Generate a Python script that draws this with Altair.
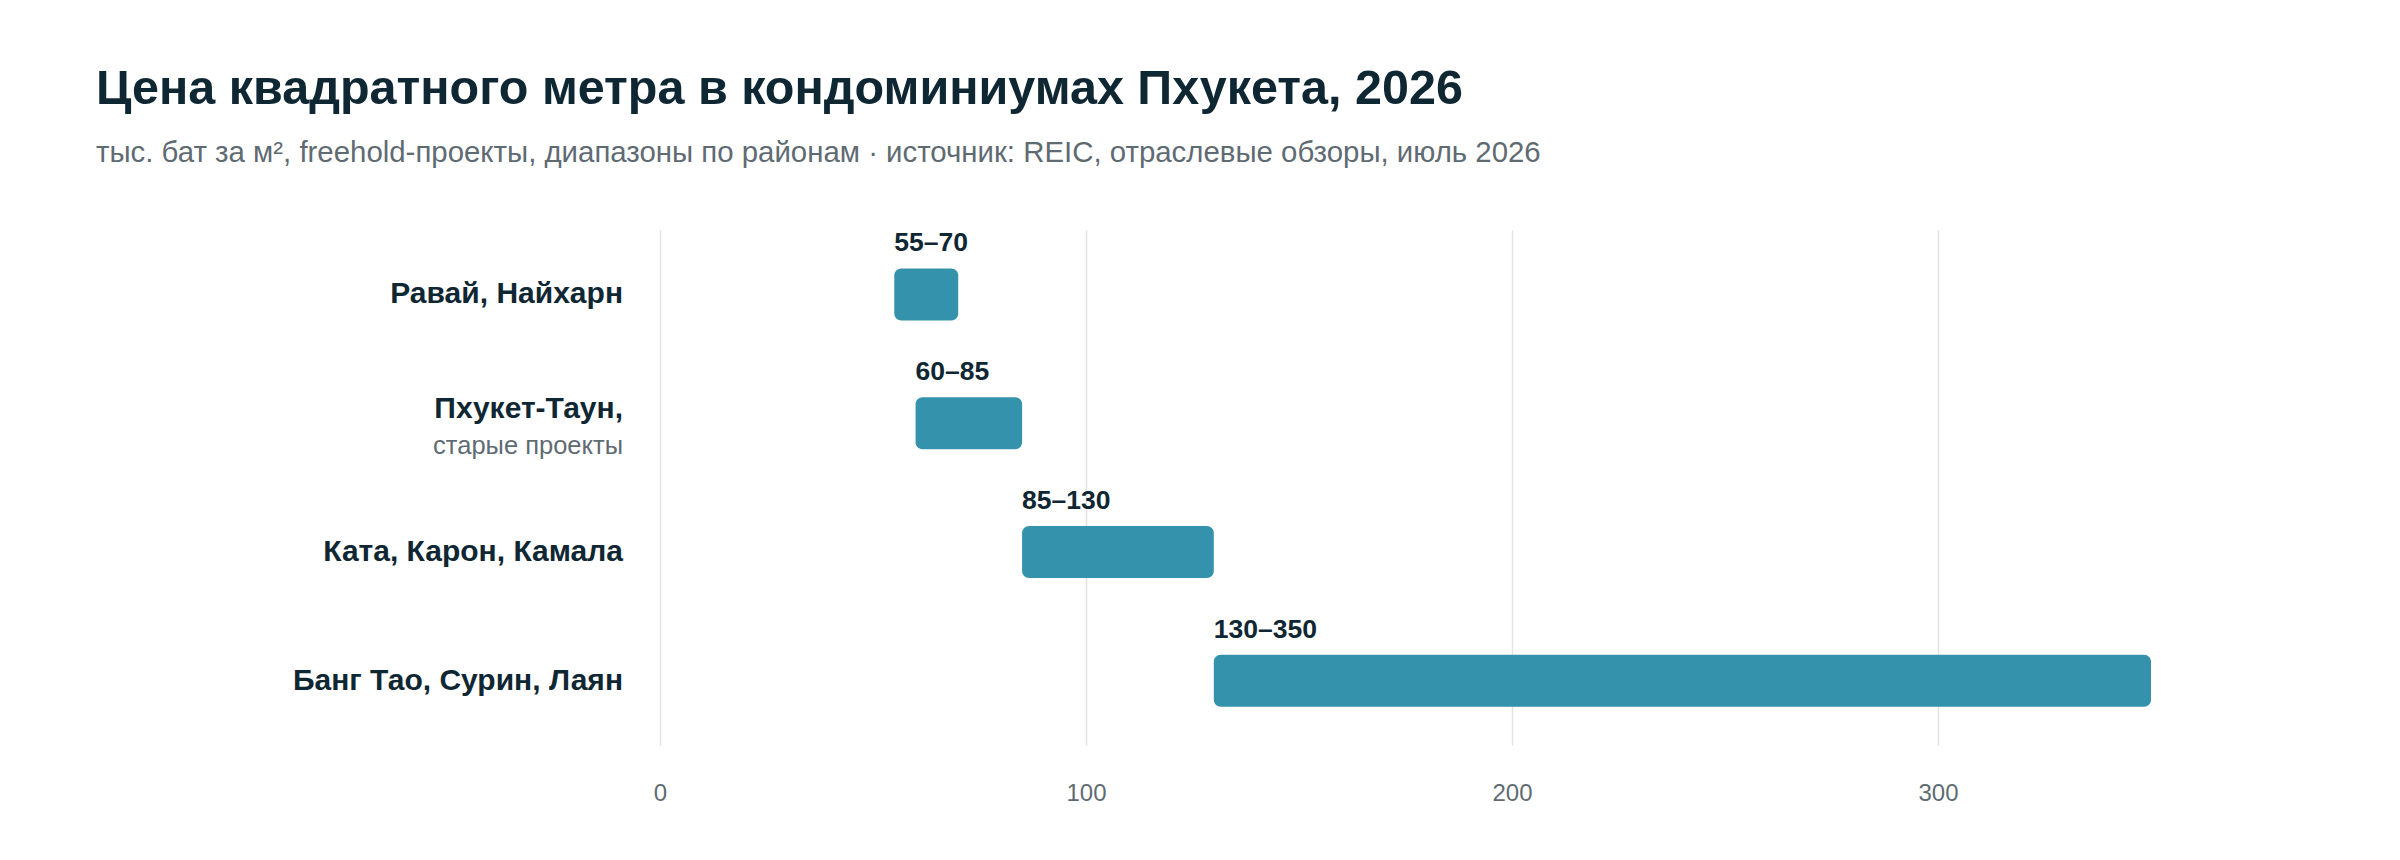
import altair as alt
import pandas as pd

regions = ["Равай, Найхарн", "Пхукет-Таун,", "Ката, Карон, Камала", "Банг Тао, Сурин, Лаян"]
sublabels = ["", "старые проекты", "", ""]
low = [55, 60, 85, 130]
high = [70, 85, 130, 350]
range_labels = ["55–70", "60–85", "85–130", "130–350"]
x_ticks = [0, 100, 200, 300]

df = pd.DataFrame({
    "region": regions,
    "sub": sublabels,
    "low": low,
    "high": high,
    "lbl": range_labels,
})

FONT = "Liberation Sans"
DARK = "#0f2733"
GRAY = "#5f6b73"
BAR = "#3592ad"

y_enc = alt.Y("region:N", sort=regions,
              scale=alt.Scale(paddingInner=0, paddingOuter=0),
              axis=alt.Axis(labels=False, ticks=False, domain=False, title=None, grid=False))
x_scale = alt.Scale(domain=[0, 350], nice=False)

base = alt.Chart(df)

bars = base.mark_bar(size=52, cornerRadius=7, color=BAR).encode(
    x=alt.X("low:Q", scale=x_scale,
            axis=alt.Axis(values=x_ticks, title=None, ticks=False, domain=False,
                          grid=True, gridColor="#e3e3e3", gridWidth=1.5,
                          labelFont=FONT, labelFontSize=24, labelColor=GRAY,
                          labelFlush=False, labelPadding=36)),
    x2="high:Q",
    y=y_enc,
)

bar_labels = base.mark_text(align="left", baseline="bottom", dy=-37, font=FONT,
                            fontSize=26.5, fontWeight="bold", color=DARK).encode(
    x=alt.X("low:Q", scale=x_scale),
    y=y_enc,
    text="lbl:N",
)

main_single = base.transform_filter(alt.datum.sub == "").mark_text(
    align="right", baseline="middle", font=FONT, fontSize=30, fontWeight="bold",
    color=DARK, dx=-37).encode(
    x=alt.value(0), y=y_enc, text="region:N")

main_double = base.transform_filter(alt.datum.sub != "").mark_text(
    align="right", baseline="middle", font=FONT, fontSize=30, fontWeight="bold",
    color=DARK, dx=-37, dy=-14).encode(
    x=alt.value(0), y=y_enc, text="region:N")

sub_text = base.transform_filter(alt.datum.sub != "").mark_text(
    align="right", baseline="middle", font=FONT, fontSize=25.5,
    color=GRAY, dx=-37, dy=23).encode(
    x=alt.value(0), y=y_enc, text="sub:N")

chart = alt.layer(bars, bar_labels, main_single, main_double, sub_text).properties(
    width=1491,
    height=515,
    background="white",
    title=alt.TitleParams(
        text="Цена квадратного метра в кондоминиумах Пхукета, 2026",
        subtitle="тыс. бат за м², freehold-проекты, диапазоны по районам · источник: REIC, отраслевые обзоры, июль 2026",
        anchor="start", frame="group", dx=-564, offset=62,
        font=FONT, fontSize=48.5, fontWeight="bold", color=DARK,
        subtitleFont=FONT, subtitleFontSize=29.4, subtitleColor=GRAY, subtitlePadding=24,
    ),
    padding={"left": 652, "top": 222, "right": 240, "bottom": 100},
    autosize=alt.AutoSizeParams(type="none"),
).configure_view(strokeWidth=0)

chart.save("out.html", embed_options={"renderer": "svg", "actions": False})
